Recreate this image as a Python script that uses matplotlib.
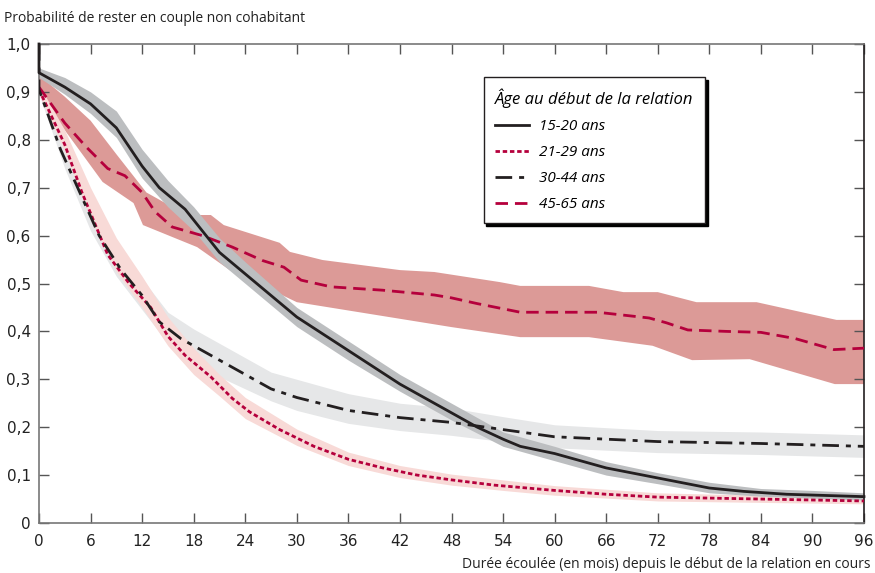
import numpy as np
import matplotlib.pyplot as plt

# --- data ---
labels = ["15-20 ans", "21-29 ans", "30-44 ans", "45-65 ans"]

m_1520 = [0, 0, 3, 6, 9, 12, 14, 17, 19, 21, 24, 27, 30, 33, 36, 39, 42, 45, 48, 51, 54, 56, 60, 66, 72, 78, 82, 87, 96]
v_1520 = [1.0, 0.94, 0.91, 0.875, 0.825, 0.745, 0.70, 0.655, 0.61, 0.565, 0.52, 0.475, 0.43, 0.395, 0.36, 0.325,
          0.29, 0.26, 0.23, 0.20, 0.175, 0.16, 0.145, 0.115, 0.094, 0.073, 0.066, 0.06, 0.055]

m_2129 = [0, 3, 5, 8, 10.5, 13, 15, 17, 20, 22.5, 24.5, 28, 32, 36, 40, 44, 48, 53, 60, 66, 72, 78, 84, 90, 96]
v_2129 = [0.905, 0.79, 0.69, 0.56, 0.50, 0.45, 0.39, 0.35, 0.305, 0.26, 0.232, 0.195, 0.16, 0.133, 0.115,
          0.10, 0.09, 0.079, 0.068, 0.06, 0.054, 0.052, 0.05, 0.048, 0.046]

m_3044 = [0, 0, 2.5, 4.5, 7, 9.5, 12, 14, 16.5, 20, 24, 27, 30, 36, 42, 48, 54, 60, 66, 72, 78, 84, 90, 96]
v_3044 = [1.0, 0.905, 0.78, 0.70, 0.60, 0.53, 0.475, 0.42, 0.385, 0.35, 0.31, 0.28, 0.262, 0.235, 0.22, 0.21,
          0.195, 0.18, 0.175, 0.17, 0.168, 0.166, 0.163, 0.16]

m_4565 = [0, 3, 5.5, 8, 10, 12, 13.5, 15.5, 19, 22.5, 26, 28.5, 30.5, 34, 40, 46, 48, 51, 56, 60, 65, 71, 73,
          75.5, 80, 84, 88, 92.5, 96]
v_4565 = [0.91, 0.835, 0.785, 0.74, 0.725, 0.69, 0.65, 0.618, 0.60, 0.576, 0.548, 0.534, 0.507, 0.493,
          0.486, 0.476, 0.47, 0.458, 0.44, 0.44, 0.44, 0.428, 0.418, 0.403, 0.40, 0.398, 0.385, 0.362, 0.365]

# confidence bands
bm_1520 = [0, 3, 6, 9, 12, 15, 18, 21, 24, 30, 36, 42, 48, 54, 60, 66, 72, 78, 84, 90, 96]
hi_1520 = [0.95, 0.93, 0.9, 0.86, 0.78, 0.715, 0.66, 0.595, 0.545, 0.45, 0.38, 0.31, 0.25, 0.19, 0.16,
           0.128, 0.105, 0.085, 0.072, 0.068, 0.063]
lo_1520 = [0.93, 0.895, 0.855, 0.805, 0.72, 0.66, 0.61, 0.545, 0.5, 0.41, 0.34, 0.275, 0.215, 0.16, 0.13,
           0.1, 0.082, 0.063, 0.056, 0.052, 0.048]

bm_2129 = [0, 3, 6, 9, 12, 15, 18, 21, 24, 30, 36, 42, 48, 54, 60, 72, 84, 96]
hi_2129 = [0.915, 0.82, 0.70, 0.595, 0.515, 0.43, 0.365, 0.31, 0.262, 0.196, 0.148, 0.12, 0.102, 0.09, 0.078,
           0.063, 0.058, 0.054]
lo_2129 = [0.895, 0.775, 0.635, 0.525, 0.45, 0.37, 0.31, 0.265, 0.218, 0.162, 0.12, 0.095, 0.079, 0.068, 0.058,
           0.046, 0.043, 0.04]

bm_3044 = [0, 3, 6, 9, 12, 15, 18, 21, 24, 27, 30, 36, 42, 48, 54, 60, 72, 84, 96]
hi_3044 = [0.915, 0.78, 0.66, 0.57, 0.51, 0.44, 0.405, 0.375, 0.345, 0.315, 0.3, 0.27, 0.25, 0.24, 0.222,
           0.205, 0.193, 0.19, 0.184]
lo_3044 = [0.895, 0.74, 0.61, 0.515, 0.445, 0.375, 0.34, 0.305, 0.28, 0.255, 0.235, 0.208, 0.193, 0.183,
           0.17, 0.157, 0.147, 0.143, 0.137]

hm_4565 = [0, 3, 6, 9, 12.5, 15, 18, 20, 21.5, 28, 29.2, 33, 42, 46, 53.6, 56, 64, 68, 72, 76.5, 83.5, 92.8, 96]
hi_4565 = [0.935, 0.89, 0.84, 0.77, 0.69, 0.665, 0.643, 0.643, 0.622, 0.585, 0.566, 0.549, 0.528, 0.524,
           0.503, 0.495, 0.495, 0.482, 0.482, 0.461, 0.461, 0.424, 0.424]
lm_4565 = [0, 3, 7.4, 11, 12.1, 18.4, 22.2, 30, 48, 56, 64, 71.4, 76, 82.7, 92.6, 96]
lo_4565 = [0.90, 0.82, 0.712, 0.668, 0.622, 0.576, 0.528, 0.461, 0.409, 0.388, 0.388, 0.37, 0.34, 0.342,
           0.29, 0.29]

x_ticks = list(range(0, 97, 6))
y_ticks = [0, 0.1, 0.2, 0.3, 0.4, 0.5, 0.6, 0.7, 0.8, 0.9, 1.0]
y_ticklabels = ["0", "0,1", "0,2", "0,3", "0,4", "0,5", "0,6", "0,7", "0,8", "0,9", "1,0"]

black = "#231f20"
crimson = "#b5003c"

plt.rcParams["font.family"] = ["Open Sans", "DejaVu Sans"]

fig = plt.figure(figsize=(8.75, 5.73), dpi=100)
ax = fig.add_axes([39 / 875, 50 / 573, 825 / 875, 479 / 573])

# bands
ax.fill(np.concatenate([hm_4565, lm_4565[::-1]]), np.concatenate([hi_4565, lo_4565[::-1]]),
        color="#dc9a97", lw=0, zorder=1)
ax.fill_between(bm_3044, lo_3044, hi_3044, color="#e6e7e8", lw=0, zorder=1.1)
ax.fill_between(bm_2129, lo_2129, hi_2129, color="#f8dad7", lw=0, zorder=1.2)
ax.fill_between(bm_1520, lo_1520, hi_1520, color="#bcbec0", lw=0, zorder=1.3)

# lines
ax.plot(m_1520, v_1520, color=black, lw=2, label=labels[0], zorder=5, clip_on=False)
ax.plot(m_2129, v_2129, color=crimson, lw=2, linestyle=(0, (1.6, 1.0)), label=labels[1], zorder=4)
ax.plot(m_3044, v_3044, color=black, lw=2, linestyle=(0, (6, 2.5, 1.8, 2.5)), label=labels[2], zorder=4.5)
ax.plot(m_4565, v_4565, color=crimson, lw=2, linestyle=(0, (4.5, 2.5)), label=labels[3], zorder=4)

ax.set_xlim(0, 96)
ax.set_ylim(0, 1.0)
ax.set_xticks(x_ticks)
ax.set_yticks(y_ticks)
ax.set_yticklabels(y_ticklabels)

for side in ["top", "left", "bottom"]:
    ax.spines[side].set_color("#777777")
ax.spines["right"].set_color(black)
for s in ax.spines.values():
    s.set_linewidth(1.2)

ax.tick_params(direction="in", length=7, width=1, color="#555555", top=True, right=True,
               labelsize=10, labelcolor="#222222")
ax.tick_params(axis="x", pad=8)
ax.tick_params(axis="y", pad=6)
for lab in ax.get_xticklabels() + ax.get_yticklabels():
    lab.set_family(["Liberation Sans Narrow", "DejaVu Sans"])
    lab.set_fontsize(11)

leg = ax.legend(loc="upper left", bbox_to_anchor=(0.539, 0.931), borderaxespad=0,
                title="Âge au début de la relation", frameon=True, fancybox=False,
                shadow={"color": "black", "alpha": 1}, edgecolor=black,
                prop={"style": "italic", "size": 11}, handlelength=2.2,
                labelspacing=0.72, borderpad=0.75, handletextpad=0.7, alignment="left")
leg.get_title().set_fontstyle("italic")
leg.get_title().set_fontsize(12)
leg.get_frame().set_linewidth(1)
leg.set_zorder(10)

fig.text(4 / 875, 1 - 18 / 573, "Probabilité de rester en couple non cohabitant",
         fontsize=10, color="#222222", va="center", ha="left")
fig.text(870 / 875, 1 - 565 / 573, "Durée écoulée (en mois) depuis le début de la relation en cours",
         fontsize=10, color="#222222", va="center", ha="right")

fig.savefig("out.png", dpi=100)
